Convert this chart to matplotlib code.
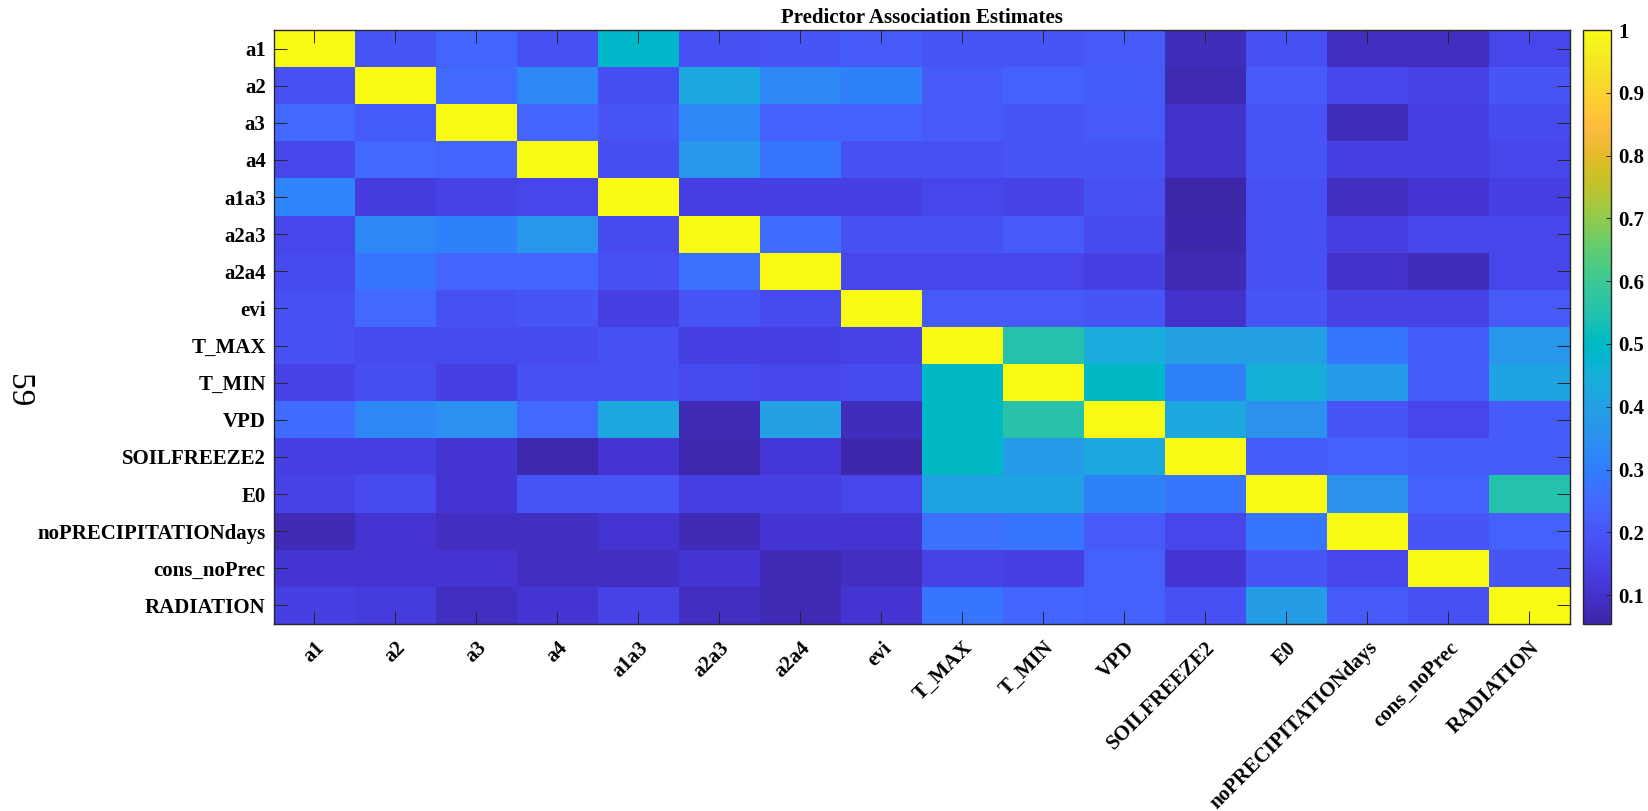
import numpy as np
import matplotlib.pyplot as plt
from matplotlib.colors import LinearSegmentedColormap

plt.rcParams['font.family'] = 'Liberation Serif'

# Variable names (rows and columns of the association matrix)
predictors = ['a1', 'a2', 'a3', 'a4', 'a1a3', 'a2a3', 'a2a4', 'evi',
              'T_MAX', 'T_MIN', 'VPD', 'SOILFREEZE2', 'E0',
              'noPRECIPITATIONdays', 'cons_noPrec', 'RADIATION']

# Predictor association estimates, one row per predictor
row_a1 = [1.00, 0.20, 0.24, 0.19, 0.49, 0.19, 0.20, 0.21, 0.20, 0.20, 0.21, 0.08, 0.19, 0.09, 0.09, 0.16]
row_a2 = [0.19, 1.00, 0.25, 0.33, 0.18, 0.43, 0.33, 0.31, 0.21, 0.23, 0.22, 0.07, 0.21, 0.16, 0.15, 0.20]
row_a3 = [0.25, 0.22, 1.00, 0.24, 0.20, 0.33, 0.23, 0.23, 0.21, 0.20, 0.21, 0.10, 0.20, 0.08, 0.14, 0.17]
row_a4 = [0.16, 0.25, 0.24, 1.00, 0.18, 0.37, 0.28, 0.19, 0.19, 0.20, 0.20, 0.10, 0.20, 0.14, 0.14, 0.16]
row_a1a3 = [0.32, 0.13, 0.15, 0.16, 1.00, 0.14, 0.14, 0.14, 0.16, 0.15, 0.19, 0.054, 0.19, 0.09, 0.11, 0.14]
row_a2a3 = [0.16, 0.33, 0.31, 0.37, 0.17, 1.00, 0.26, 0.19, 0.19, 0.21, 0.17, 0.058, 0.19, 0.14, 0.16, 0.16]
row_a2a4 = [0.17, 0.28, 0.24, 0.24, 0.19, 0.27, 1.00, 0.16, 0.16, 0.16, 0.14, 0.07, 0.19, 0.10, 0.08, 0.16]
row_evi = [0.19, 0.25, 0.19, 0.20, 0.14, 0.20, 0.17, 1.00, 0.21, 0.21, 0.20, 0.10, 0.20, 0.15, 0.15, 0.21]
row_tmax = [0.19, 0.17, 0.17, 0.17, 0.19, 0.14, 0.14, 0.15, 1.00, 0.55, 0.44, 0.40, 0.40, 0.28, 0.22, 0.37]
row_tmin = [0.15, 0.18, 0.14, 0.19, 0.19, 0.17, 0.16, 0.17, 0.50, 1.00, 0.50, 0.31, 0.45, 0.38, 0.22, 0.41]
row_vpd = [0.26, 0.33, 0.35, 0.25, 0.43, 0.07, 0.40, 0.08, 0.50, 0.56, 1.00, 0.43, 0.36, 0.20, 0.16, 0.22]
row_soilfreeze = [0.14, 0.14, 0.11, 0.065, 0.11, 0.065, 0.12, 0.06, 0.50, 0.38, 0.43, 1.00, 0.22, 0.23, 0.22, 0.22]
row_e0 = [0.15, 0.17, 0.11, 0.20, 0.20, 0.14, 0.14, 0.16, 0.41, 0.41, 0.31, 0.28, 1.00, 0.36, 0.23, 0.55]
row_noprec = [0.075, 0.11, 0.09, 0.09, 0.11, 0.075, 0.11, 0.11, 0.27, 0.28, 0.21, 0.16, 0.28, 1.00, 0.20, 0.23]
row_consnoprec = [0.11, 0.11, 0.11, 0.09, 0.09, 0.11, 0.075, 0.09, 0.15, 0.14, 0.23, 0.11, 0.20, 0.16, 1.00, 0.20]
row_radiation = [0.14, 0.13, 0.09, 0.11, 0.15, 0.09, 0.075, 0.11, 0.28, 0.24, 0.23, 0.19, 0.39, 0.21, 0.19, 1.00]

cbar_ticks = [0.1, 0.2, 0.3, 0.4, 0.5, 0.6, 0.7, 0.8, 0.9, 1.0]
cbar_labels = ['0.1', '0.2', '0.3', '0.4', '0.5', '0.6', '0.7', '0.8', '0.9', '1']

assoc = np.array([row_a1, row_a2, row_a3, row_a4, row_a1a3, row_a2a3, row_a2a4,
                  row_evi, row_tmax, row_tmin, row_vpd, row_soilfreeze, row_e0,
                  row_noprec, row_consnoprec, row_radiation])

# MATLAB parula colormap (64 entries)
parula_rgb = [
    [0.2422, 0.1504, 0.6603], [0.2504, 0.1650, 0.7076], [0.2578, 0.1818, 0.7511],
    [0.2647, 0.1978, 0.7952], [0.2706, 0.2147, 0.8364], [0.2751, 0.2342, 0.8710],
    [0.2783, 0.2559, 0.8991], [0.2803, 0.2782, 0.9221], [0.2813, 0.3006, 0.9414],
    [0.2810, 0.3228, 0.9579], [0.2795, 0.3447, 0.9717], [0.2760, 0.3667, 0.9829],
    [0.2699, 0.3892, 0.9906], [0.2602, 0.4123, 0.9952], [0.2440, 0.4358, 0.9988],
    [0.2206, 0.4603, 0.9973], [0.1963, 0.4847, 0.9892], [0.1834, 0.5074, 0.9798],
    [0.1786, 0.5289, 0.9682], [0.1764, 0.5499, 0.9520], [0.1687, 0.5703, 0.9359],
    [0.1540, 0.5902, 0.9218], [0.1460, 0.6091, 0.9079], [0.1380, 0.6276, 0.8973],
    [0.1248, 0.6459, 0.8883], [0.1111, 0.6635, 0.8763], [0.0952, 0.6798, 0.8598],
    [0.0689, 0.6948, 0.8394], [0.0297, 0.7082, 0.8163], [0.0036, 0.7203, 0.7917],
    [0.0067, 0.7312, 0.7660], [0.0433, 0.7411, 0.7394], [0.0964, 0.7500, 0.7120],
    [0.1408, 0.7584, 0.6842], [0.1717, 0.7670, 0.6554], [0.1938, 0.7758, 0.6251],
    [0.2161, 0.7843, 0.5923], [0.2470, 0.7918, 0.5567], [0.2906, 0.7973, 0.5188],
    [0.3406, 0.8008, 0.4789], [0.3909, 0.8029, 0.4354], [0.4456, 0.8024, 0.3909],
    [0.5044, 0.7993, 0.3480], [0.5616, 0.7942, 0.3045], [0.6174, 0.7876, 0.2612],
    [0.6720, 0.7793, 0.2227], [0.7242, 0.7698, 0.1910], [0.7738, 0.7598, 0.1646],
    [0.8203, 0.7498, 0.1535], [0.8634, 0.7406, 0.1596], [0.9035, 0.7330, 0.1774],
    [0.9393, 0.7288, 0.2100], [0.9728, 0.7298, 0.2394], [0.9956, 0.7434, 0.2371],
    [0.9970, 0.7659, 0.2199], [0.9952, 0.7893, 0.2028], [0.9892, 0.8136, 0.1885],
    [0.9786, 0.8386, 0.1766], [0.9676, 0.8639, 0.1643], [0.9610, 0.8890, 0.1537],
    [0.9597, 0.9135, 0.1423], [0.9628, 0.9373, 0.1265], [0.9691, 0.9606, 0.1064],
    [0.9769, 0.9839, 0.0805]]
parula = LinearSegmentedColormap.from_list('parula', parula_rgb, N=256)

W, H = 1649, 811
fig = plt.figure(figsize=(W / 100, H / 100), dpi=100)
ax = fig.add_axes([274 / W, 187 / H, 1296 / W, 594 / H])
cax = fig.add_axes([1583 / W, 187 / H, 28 / W, 594 / H])

im = ax.imshow(assoc, cmap=parula, vmin=assoc.min(), vmax=assoc.max(),
               aspect='auto', interpolation='nearest')

n = len(predictors)
ax.set_xticks(np.arange(n))
ax.set_yticks(np.arange(n))
ax.set_xticklabels(predictors, rotation=45, ha='right', va='top',
                   rotation_mode='anchor', fontsize=15, fontweight='bold')
ax.set_yticklabels(predictors, fontsize=15, fontweight='bold')
ax.tick_params(axis='both', direction='in', length=9.5, width=0.7,
               color='#262626', top=True, right=True)
ax.tick_params(axis='x', pad=10)
ax.tick_params(axis='y', pad=6)
for s in ax.spines.values():
    s.set_color('#262626')
    s.set_linewidth(1.0)

fig.text(922 / W, 1 - 18 / H, 'Predictor Association Estimates',
         ha='center', va='center', fontsize=15, fontweight='bold')
fig.text(18 / W, 1 - 391 / H, '59', rotation=-90, ha='center', va='center',
         fontsize=24)

cb = fig.colorbar(im, cax=cax)
cb.set_ticks(cbar_ticks)
cb.set_ticklabels(cbar_labels)
cax.tick_params(direction='in', length=3.5, width=0.7, color='#262626',
                labelsize=15, pad=5)
for lbl in cax.get_yticklabels():
    lbl.set_fontweight('bold')
cb.outline.set_edgecolor('#262626')
cb.outline.set_linewidth(1.0)

fig.savefig('out.png', dpi=100)
